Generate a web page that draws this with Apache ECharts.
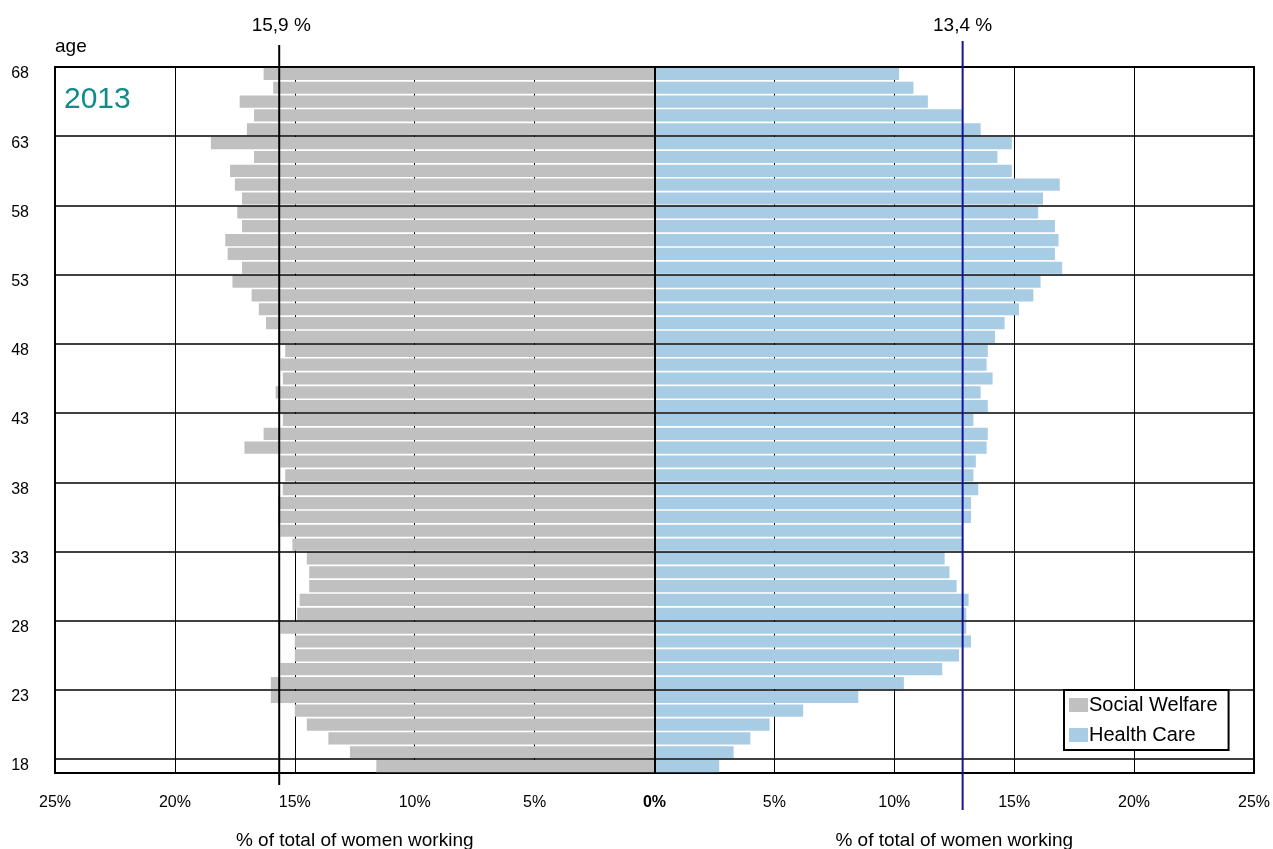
<!DOCTYPE html>
<html>
<head>
<meta charset="utf-8">
<script src="https://cdn.jsdelivr.net/npm/echarts@6/dist/echarts.min.js"></script>
<style>
html,body{margin:0;padding:0;background:#fff;}
#chart{width:1273px;height:849px;}
</style>
</head>
<body>
<div id="chart"></div>
<script>
// ages, bottom (18) to top (68)
const ages = ['18','19','20','21','22','23','24','25','26','27','28','29','30','31','32','33','34','35','36','37','38','39','40','41','42','43','44','45','46','47','48','49','50','51','52','53','54','55','56','57','58','59','60','61','62','63','64','65','66','67','68'];
// Social Welfare (% of total of women working), same order as ages
const socialWelfare = [11.6,12.7,13.6,14.5,15.0,16.0,16.0,15.6,15.0,15.0,15.6,14.9,14.8,14.4,14.4,14.5,15.1,15.6,15.7,15.7,15.5,15.4,15.6,17.1,16.3,15.5,15.7,15.8,15.5,15.6,15.4,15.7,16.2,16.5,16.8,17.6,17.2,17.8,17.9,17.2,17.4,17.2,17.5,17.7,16.7,18.5,17.0,16.7,17.3,15.9,16.3];
// Health Care (% of total of women working), same order as ages
const healthCare = [2.7,3.3,4.0,4.8,6.2,8.5,10.4,12.0,12.7,13.2,13.0,13.0,13.1,12.6,12.3,12.1,12.85,12.85,13.2,13.2,13.5,13.3,13.4,13.85,13.9,13.3,13.9,13.6,14.1,13.85,13.9,14.2,14.6,15.2,15.8,16.1,17.0,16.7,16.85,16.7,16.0,16.2,16.9,14.9,14.3,14.9,13.6,12.85,11.4,10.8,10.2];
const seriesNames = ['Social Welfare','Health Care'];
// reference (mean) lines: drawn position and label text
const refPositions = [-15.65, 12.85];
const refLabels = ['15,9 %','13,4 %'];
const xTicks = [-25,-20,-15,-10,-5,0,5,10,15,20,25];
const yearLabel = '2013';
const axisTitle = '% of total of women working';

const FONT = '"Liberation Sans", Arial, sans-serif';
const chart = echarts.init(document.getElementById('chart'), null, {renderer:'canvas'});

const GRID = {left:55, right:18, top:67, height:706};

chart.setOption({
  animation:false,
  backgroundColor:'#fff',
  textStyle:{fontFamily:FONT},
  grid:{left:GRID.left, right:GRID.right, top:GRID.top, height:GRID.height, show:true, borderColor:'#000', borderWidth:2, backgroundColor:'transparent'},
  legend:{
    orient:'vertical', left:1064, top:690,
    data:seriesNames,
    icon:'rect', itemWidth:19, itemHeight:14, itemGap:10,
    padding:[5,11,5,5],
    borderColor:'#000', borderWidth:2, backgroundColor:'#fff',
    textStyle:{fontFamily:FONT, fontSize:20, color:'#000', padding:[0,0,0,-4]},
    z:10
  },
  xAxis:{
    type:'value', min:xTicks[0], max:xTicks[xTicks.length-1], interval:5,
    axisLine:{show:false}, axisTick:{show:false},
    splitLine:{show:true, lineStyle:{color:'#000', width:1}},
    axisLabel:{
      margin:22, fontFamily:FONT, fontSize:16, color:'#000',
      formatter:function(v){ return v === 0 ? '{b|0%}' : Math.abs(v) + '%'; },
      rich:{b:{fontWeight:'bold', fontFamily:FONT, fontSize:16, color:'#000'}}
    }
  },
  yAxis:{
    type:'category', data:ages, z:3,
    axisLine:{show:false}, axisTick:{show:false},
    axisLabel:{
      margin:26, fontFamily:FONT, fontSize:16, color:'#000',
      interval:function(i){ return i % 5 === 0; }
    },
    splitLine:{show:true, interval:function(i){ return i % 5 === 1; }, lineStyle:{color:'#000', width:1.5}}
  },
  series:[
    {
      name:seriesNames[0], type:'bar',
      data:socialWelfare.map(function(v){ return -v; }),
      barGap:'-100%', barCategoryGap:'12%',
      itemStyle:{color:'#C0C0C0'}
    },
    {
      name:seriesNames[1], type:'bar',
      data:healthCare,
      barGap:'-100%', barCategoryGap:'12%',
      itemStyle:{color:'#A8CCE4'},
      markLine:{
        silent:true, symbol:'none', label:{show:false},
        lineStyle:{color:'#000', width:2, type:'solid'},
        data:[{xAxis:0}]
      }
    }
  ]
});

// overlay elements positioned through the axis scales
const yTop = GRID.top, yBottom = GRID.top + GRID.height;
const lx = chart.convertToPixel({xAxisIndex:0}, refPositions[0]);
const rx = chart.convertToPixel({xAxisIndex:0}, refPositions[1]);
const leftMid = chart.convertToPixel({xAxisIndex:0}, -12.5);
const rightMid = chart.convertToPixel({xAxisIndex:0}, 12.5);
const gx0 = chart.convertToPixel({xAxisIndex:0}, xTicks[0]);

chart.setOption({
  graphic:[
    {type:'line', z:20, shape:{x1:lx, y1:yTop-22, x2:lx, y2:yBottom+12}, style:{stroke:'#000', lineWidth:2}},
    {type:'line', z:20, shape:{x1:rx, y1:yTop-26, x2:rx, y2:yBottom+37}, style:{stroke:'#14149A', lineWidth:2}},
    {type:'text', z:20, x:lx+2, y:26, style:{text:refLabels[0], font:'19px ' + FONT, fill:'#000', align:'center', verticalAlign:'middle'}},
    {type:'text', z:20, x:rx, y:26, style:{text:refLabels[1], font:'19px ' + FONT, fill:'#000', align:'center', verticalAlign:'middle'}},
    {type:'text', z:20, x:gx0, y:47, style:{text:'age', font:'19px ' + FONT, fill:'#000', align:'left', verticalAlign:'middle'}},
    {type:'text', z:20, x:gx0+9, y:100, style:{text:yearLabel, font:'30px ' + FONT, fill:'#128B8B', align:'left', verticalAlign:'middle'}},
    {type:'text', z:20, x:leftMid, y:841, style:{text:axisTitle, font:'19px ' + FONT, fill:'#000', align:'center', verticalAlign:'middle'}},
    {type:'text', z:20, x:rightMid, y:841, style:{text:axisTitle, font:'19px ' + FONT, fill:'#000', align:'center', verticalAlign:'middle'}}
  ]
});
</script>
</body>
</html>
